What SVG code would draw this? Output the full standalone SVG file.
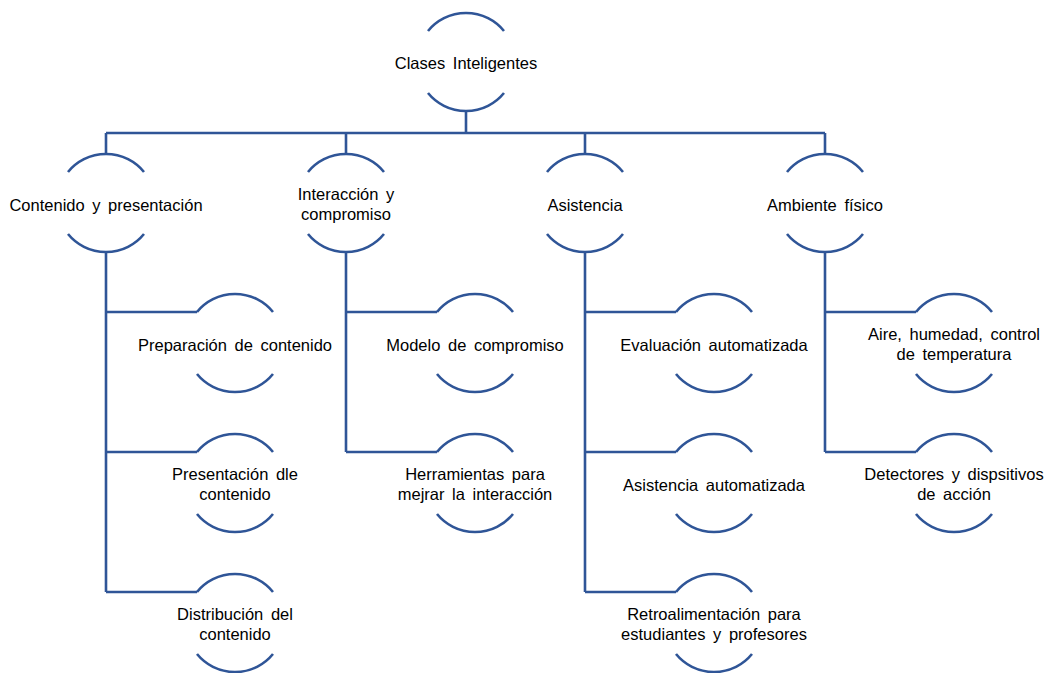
<svg xmlns="http://www.w3.org/2000/svg" width="1046" height="673" viewBox="0 0 1046 673">
<style>
.arc{fill:none;stroke:#2F5597;stroke-width:2.6}
.ln{fill:none;stroke:#2F5597;stroke-width:2.6}
text{font-family:"Liberation Sans",Arial,sans-serif;font-size:16.5px;fill:#000;text-anchor:middle;word-spacing:3px}
</style>
<defs>
<path id="half" class="arc" d="M-38,-31 A49,49 0 0 1 38,-31 M-38,31 A49,49 0 0 0 38,31"/>
</defs>
<rect width="1046" height="673" fill="#fff"/>
<g id="connectors">
<path class="ln" d="M466,111 V133 M106,133 H825 M106,133 V154 M346,133 V154 M585,133 V154 M825,133 V154"/>
<path class="ln" d="M106,252 V592 M106,312 H197 M106,452 H197 M106,592 H197"/>
<path class="ln" d="M346,252 V452 M346,312 H437 M346,452 H437"/>
<path class="ln" d="M585,252 V592 M585,312 H676 M585,452 H676 M585,592 H676"/>
<path class="ln" d="M825,252 V452 M825,312 H916 M825,452 H916"/>
</g>
<g id="n0"><use href="#half" x="466" y="62"/><text x="466" y="69">Clases Inteligentes</text></g>
<g id="n1"><use href="#half" x="106" y="203"/><text x="106" y="211">Contenido y presentación</text></g>
<g id="n2"><use href="#half" x="346" y="203"/><text x="346" y="200">Interacción y</text><text x="346" y="220">compromiso</text></g>
<g id="n3"><use href="#half" x="585" y="203"/><text x="585" y="211">Asistencia</text></g>
<g id="n4"><use href="#half" x="825" y="203"/><text x="825" y="211">Ambiente físico</text></g>
<g id="n11"><use href="#half" x="235" y="343"/><text x="235" y="351">Preparación de contenido</text></g>
<g id="n12"><use href="#half" x="235" y="483"/><text x="235" y="480">Presentación dle</text><text x="235" y="500">contenido</text></g>
<g id="n13"><use href="#half" x="235" y="623"/><text x="235" y="620">Distribución del</text><text x="235" y="640">contenido</text></g>
<g id="n21"><use href="#half" x="475" y="343"/><text x="475" y="351">Modelo de compromiso</text></g>
<g id="n22"><use href="#half" x="475" y="483"/><text x="475" y="480">Herramientas para</text><text x="475" y="500">mejrar la interacción</text></g>
<g id="n31"><use href="#half" x="714" y="343"/><text x="714" y="351">Evaluación automatizada</text></g>
<g id="n32"><use href="#half" x="714" y="483"/><text x="714" y="491">Asistencia automatizada</text></g>
<g id="n33"><use href="#half" x="714" y="623"/><text x="714" y="620">Retroalimentación para</text><text x="714" y="640">estudiantes y profesores</text></g>
<g id="n41"><use href="#half" x="954" y="343"/><text x="954" y="340">Aire, humedad, control</text><text x="954" y="360">de temperatura</text></g>
<g id="n42"><use href="#half" x="954" y="483"/><text x="954" y="480">Detectores y dispsitivos</text><text x="954" y="500">de acción</text></g>
</svg>
